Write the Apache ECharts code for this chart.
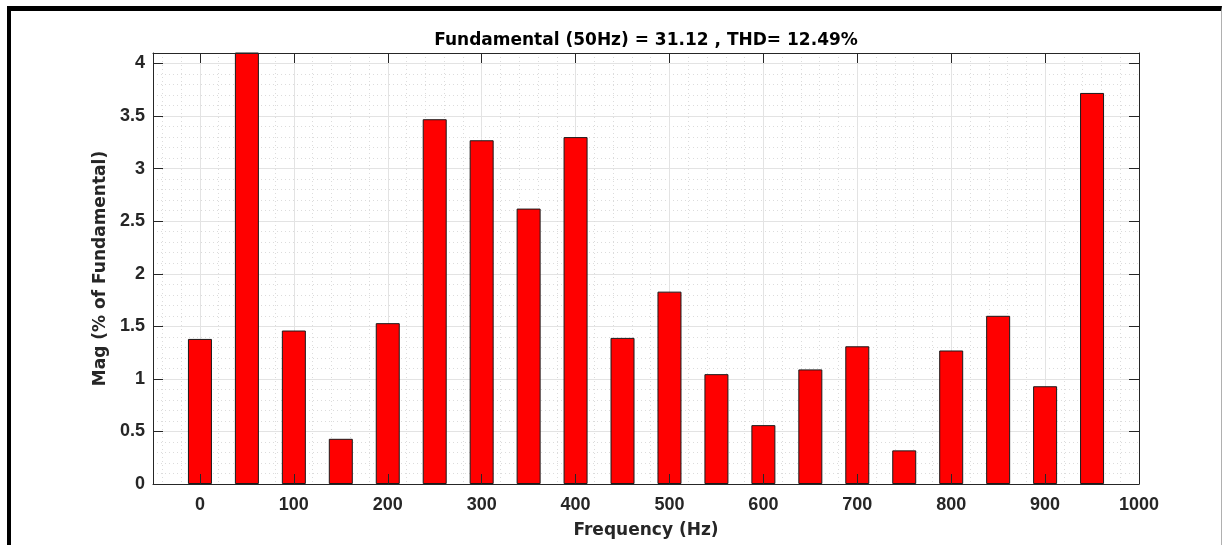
<!DOCTYPE html>
<html>
<head>
<meta charset="utf-8">
<script src="https://cdn.jsdelivr.net/npm/echarts@6/dist/echarts.min.js"></script>
<style>
html,body{margin:0;padding:0;background:#fff;}
#wrap{position:relative;width:1222px;height:545px;overflow:hidden;}
#chart{position:absolute;left:0;top:0;width:1222px;height:545px;}
#frame{position:absolute;left:7px;top:6px;width:1210px;height:600px;border-left:4px solid #000;border-top:5px solid #000;border-right:1px solid #b0b0b0;pointer-events:none;}
</style>
</head>
<body>
<div id="wrap"><div id="chart"></div><div id="frame"></div></div>
<script>
// Harmonic frequencies (Hz)
const frequencies = [0, 50, 100, 150, 200, 250, 300, 350, 400, 450, 500, 550, 600, 650, 700, 750, 800, 850, 900, 950];
// Magnitude (% of Fundamental); the 50 Hz fundamental is 100% and clipped by the axis
const magnitudes = [1.38, 100, 1.46, 0.43, 1.53, 3.47, 3.27, 2.62, 3.30, 1.39, 1.83, 1.045, 0.56, 1.09, 1.31, 0.32, 1.27, 1.60, 0.93, 3.72];
const titleText = 'Fundamental (50Hz) = 31.12 , THD= 12.49%';
const xName = 'Frequency (Hz)';
const yName = 'Mag (% of Fundamental)';

const FONT = '"Liberation Sans", Arial, Helvetica, sans-serif';
const NFONT = '"DejaVu Sans", "Liberation Sans", Arial, sans-serif';
const TXT = '#262626';
const L = 153, R = 83, T = 53, B = 61;
const XMIN = -50, XMAX = 1000, YMAX = 4.1;
const plotH = 545 - T - B;
const top4 = 545 - B - plotH * 4 / YMAX;

const chart = echarts.init(document.getElementById('chart'), null, {renderer: 'canvas'});
const data = frequencies.map((f, i) => [f, magnitudes[i]]);

chart.setOption({
  backgroundColor: '#fff',
  animation: false,
  textStyle: {fontFamily: FONT},
  grid: [
    {left: L, right: R, top: T, bottom: B, containLabel: false},
    {left: L, right: R, top: top4, bottom: B, containLabel: false},
    {left: L, right: R, top: T, bottom: B, containLabel: false}
  ],
  xAxis: [
    { // main x (labels, vertical grid)
      type: 'value', gridIndex: 0, min: XMIN, max: XMAX, splitNumber: 10, position: 'bottom',
      axisLine: {show: false, onZero: false}, axisTick: {show: false},
      axisLabel: {show: true, showMinLabel: false, color: TXT, fontSize: 18, fontWeight: 'bold', fontFamily: FONT, margin: 12,
        formatter: v => String(v)},
      splitLine: {show: true, lineStyle: {color: '#e3e3e3', width: 1}},
      minorTick: {show: false, splitNumber: 5},
      minorSplitLine: {show: true, lineStyle: {color: '#dcdcdc', width: 1, type: [1, 3]}},
      name: xName, nameLocation: 'middle', nameGap: 38,
      nameTextStyle: {color: TXT, fontSize: 17, fontWeight: 'bold', fontFamily: NFONT}
    },
    { // horizontal grid helper x
      type: 'value', gridIndex: 1, min: XMIN, max: XMAX, show: false
    },
    { // overlay bottom
      type: 'value', gridIndex: 2, min: XMIN, max: XMAX, splitNumber: 10, position: 'bottom', z: 10,
      axisLine: {show: true, onZero: false, lineStyle: {color: TXT, width: 1}},
      axisTick: {show: true, inside: true, length: 10, lineStyle: {color: TXT, width: 1}},
      axisLabel: {show: false}, splitLine: {show: false}
    },
    { // overlay top with title
      type: 'value', gridIndex: 2, min: XMIN, max: XMAX, splitNumber: 10, position: 'top', z: 10,
      axisLine: {show: true, onZero: false, lineStyle: {color: TXT, width: 1}},
      axisTick: {show: true, inside: true, length: 10, lineStyle: {color: TXT, width: 1}},
      axisLabel: {show: false}, splitLine: {show: false},
      name: titleText, nameLocation: 'middle', nameGap: 4,
      nameTextStyle: {color: '#000', fontSize: 17, fontWeight: 'bold', fontFamily: NFONT}
    }
  ],
  yAxis: [
    { // main y (labels)
      type: 'value', gridIndex: 0, min: 0, max: YMAX, interval: 0.5, position: 'left',
      axisLine: {show: false, onZero: false}, axisTick: {show: false},
      axisLabel: {show: true, showMaxLabel: false, color: TXT, fontSize: 18, fontWeight: 'bold', fontFamily: FONT, margin: 8},
      splitLine: {show: false},
      name: yName, nameLocation: 'middle', nameGap: 42, nameRotate: 90,
      nameTextStyle: {color: TXT, fontSize: 17, fontWeight: 'bold', fontFamily: NFONT}
    },
    { // horizontal grid lines 0..4
      type: 'value', gridIndex: 1, min: 0, max: 4, interval: 0.5, position: 'left',
      axisLine: {show: false, onZero: false}, axisTick: {show: false}, axisLabel: {show: false},
      splitLine: {show: true, lineStyle: {color: '#e3e3e3', width: 1}},
      minorTick: {show: false, splitNumber: 5},
      minorSplitLine: {show: true, lineStyle: {color: '#dcdcdc', width: 1, type: [1, 3]}}
    },
    { // overlay left
      type: 'value', gridIndex: 2, min: 0, max: YMAX, interval: 0.5, position: 'left', z: 10,
      axisLine: {show: true, onZero: false, lineStyle: {color: TXT, width: 1}},
      axisTick: {show: true, inside: true, length: 10, lineStyle: {color: TXT, width: 1}},
      axisLabel: {show: false}, splitLine: {show: false}
    },
    { // overlay right
      type: 'value', gridIndex: 2, min: 0, max: YMAX, interval: 0.5, position: 'right', z: 10,
      axisLine: {show: true, onZero: false, lineStyle: {color: TXT, width: 1}},
      axisTick: {show: true, inside: true, length: 10, lineStyle: {color: TXT, width: 1}},
      axisLabel: {show: false}, splitLine: {show: false}
    }
  ],
  series: [{
    type: 'bar', xAxisIndex: 0, yAxisIndex: 0, data: data,
    barWidth: 24, clip: true, z: 5,
    itemStyle: {color: '#ff0000', borderColor: '#1a1a1a', borderWidth: 1}
  }]
});
</script>
</body>
</html>
